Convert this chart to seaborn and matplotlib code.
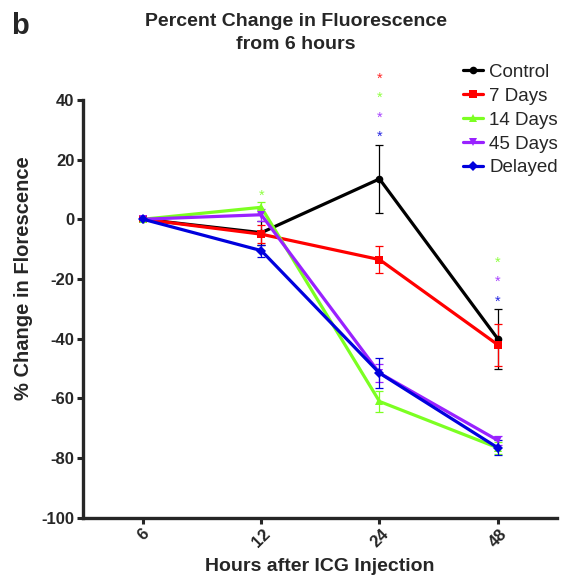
import matplotlib
matplotlib.use("Agg")
import matplotlib.pyplot as plt
import pandas as pd
import seaborn as sns

# data (mean % change, and error bar half-widths)
hours = ["6", "12", "24", "48"]
groups = ["Control", "7 Days", "14 Days", "45 Days", "Delayed"]
control = [0, -4.5, 13.5, -40]
days7 = [0, -5, -13.5, -42]
days14 = [0, 4, -61, -76.5]
days45 = [0, 1.5, -51.5, -74]
delayed = [0, -10.5, -51.5, -76.5]
control_err = [0, 4, 11.5, 10]
days7_err = [0, 3, 4.5, 7]
days14_err = [0, 1.8, 3.5, 2]
days45_err = [0, 2, 3, 1.5]
delayed_err = [0, 2, 5, 2.5]

# significance asterisks (group, hour, y)
star_groups = ["7 Days", "14 Days", "45 Days", "Delayed", "14 Days",
               "14 Days", "45 Days", "Delayed"]
star_hours = ["24", "24", "24", "24", "12", "48", "48", "48"]
star_y = [47, 40.5, 34, 27.5, 8, -14.5, -21, -27.5]

colors = {"Control": "#000000", "7 Days": "#ff0000", "14 Days": "#7cff22",
          "45 Days": "#9922ff", "Delayed": "#0000dd"}
markers = {"Control": "o", "7 Days": "s", "14 Days": "^", "45 Days": "v",
           "Delayed": "D"}

means = [control, days7, days14, days45, delayed]
errs = [control_err, days7_err, days14_err, days45_err, delayed_err]
df = pd.DataFrame({
    "hour": hours * len(groups),
    "value": sum(means, []),
    "err": sum(errs, []),
    "group": [g for g in groups for _ in hours],
})

sns.set_style("ticks")
plt.rcParams["font.family"] = ["Liberation Sans", "DejaVu Sans"]
plt.rcParams["axes.unicode_minus"] = False

fig = plt.figure(figsize=(5.63, 5.8), dpi=100)
ax = fig.add_axes([0.147, 0.107, 0.842, 0.721])

for g in groups:
    d = df[df.group == g]
    ax.errorbar(d.hour, d.value, yerr=d.err, fmt="none", ecolor=colors[g],
                elinewidth=0.9, capsize=3, capthick=0.9, zorder=2)

sns.lineplot(data=df, x="hour", y="value", hue="group", style="group",
             palette=colors, markers=markers, dashes=False, linewidth=2.3,
             markersize=5.5, markeredgewidth=0, ax=ax, zorder=3,
             sort=False)

for g, h, y in zip(star_groups, star_hours, star_y):
    ax.text(hours.index(h), y, "*", color=colors[g], fontsize=10.5,
            ha="center", va="center", alpha=0.85)

ax.set_xlim(-0.51, 3.5)
ax.set_ylim(-100, 40)
ax.set_yticks(range(-100, 41, 20))
sns.despine(ax=ax)
for s in ["left", "bottom"]:
    ax.spines[s].set_linewidth(2.4)
ax.tick_params(width=2.2, length=4, labelsize=12, pad=2)
for lab in ax.get_xticklabels() + ax.get_yticklabels():
    lab.set_fontweight("bold")
plt.setp(ax.get_xticklabels(), rotation=45, ha="center",
         rotation_mode="default")

ax.set_xlabel("Hours after ICG Injection", fontsize=14, fontweight="bold",
              labelpad=6)
ax.set_ylabel("% Change in Florescence", fontsize=14.5, fontweight="bold")
ax.yaxis.set_label_coords(-0.105, 0.574)

fig.text(0.526, 0.943, "Percent Change in Fluorescence\nfrom 6 hours",
         ha="center", va="center", fontsize=14, fontweight="bold",
         linespacing=1.45)
fig.text(0.02, 0.955, "b", fontsize=21, fontweight="bold", va="center")

ax.legend(loc="upper left", bbox_to_anchor=(0.822, 0.89),
          bbox_transform=fig.transFigure, frameon=False, fontsize=13.5,
          handlelength=1.1, handletextpad=0.3, labelspacing=0.36,
          borderaxespad=0, borderpad=0)

fig.savefig("out.png", dpi=100)
